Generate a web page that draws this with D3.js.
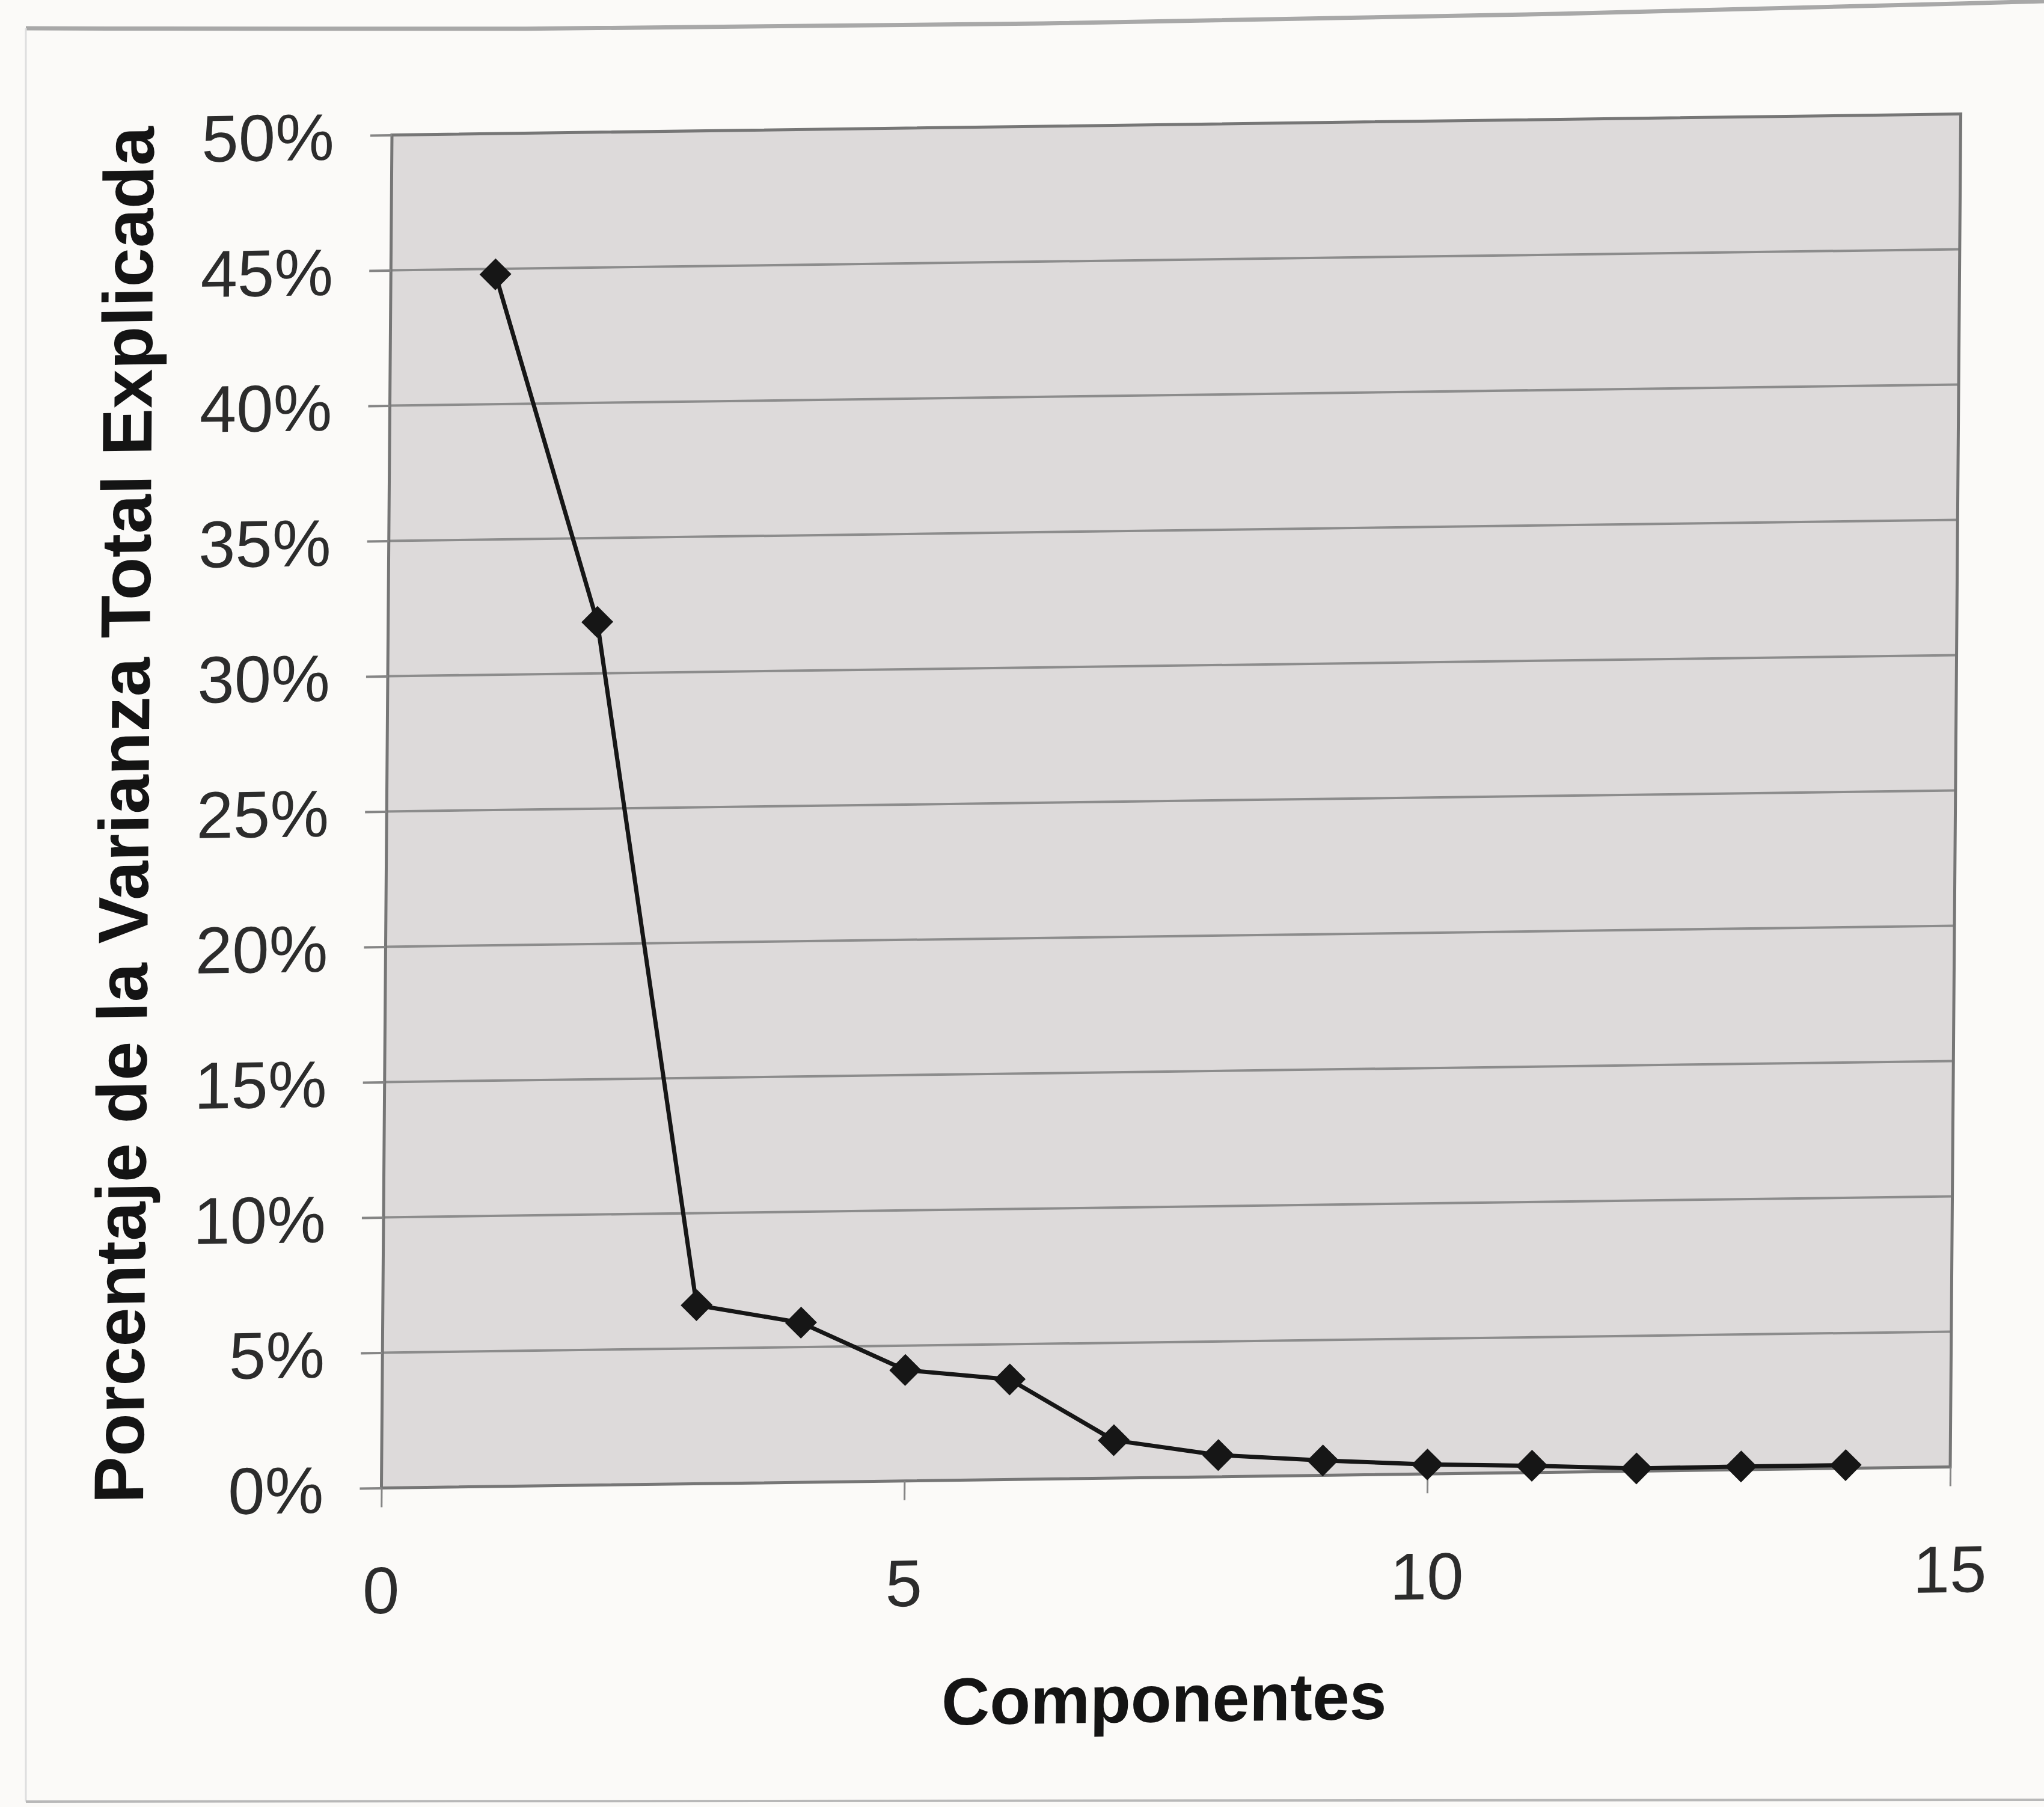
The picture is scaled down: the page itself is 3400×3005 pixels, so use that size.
<!DOCTYPE html>
<html>
<head>
<meta charset="utf-8">
<script src="https://cdn.jsdelivr.net/npm/d3@7/dist/d3.min.js"></script>
<style>
  html, body { margin: 0; padding: 0; background: #fbfaf8; }
  svg { display: block; }
  text { font-family: "Liberation Sans", Arial, Helvetica, sans-serif; }
</style>
</head>
<body>
<svg id="chart" width="3400" height="3005"></svg>
<script>
// Scree plot: share of total variance explained by each principal component
const components = [1, 2, 3, 4, 5, 6, 7, 8, 9, 10, 11, 12, 13, 14];
const varianceExplained = [44.8, 31.9, 6.6, 5.9, 4.1, 3.7, 1.4, 0.8, 0.55, 0.35, 0.25, 0.1, 0.12, 0.12];
const yTickValues = [0, 5, 10, 15, 20, 25, 30, 35, 40, 45, 50];
const xTickValues = [0, 5, 10, 15];
const yTitle = "Porcentaje de la Varianza Total Explicada";
const xTitle = "Componentes";

const W = 2608, H = 2247;

const svg = d3.select("#chart");
svg.append("rect").attr("width", 3400).attr("height", 3005).attr("fill", "#fbfaf8");

// page frame around the figure
const frame = svg.append("g").attr("fill", "none");
frame.append("path")
  .attr("d", d3.line().curve(d3.curveBasis)([[43, 47], [868, 50], [1735, 40], [2603, 24], [3400, 2]]))
  .attr("stroke", "#a8a8a8").attr("stroke-width", 7);
frame.append("line").attr("x1", 43).attr("y1", 47).attr("x2", 43).attr("y2", 2996)
  .attr("stroke", "#dedede").attr("stroke-width", 3);
frame.append("line").attr("x1", 43).attr("y1", 2996).attr("x2", 3400).attr("y2", 2993)
  .attr("stroke", "#b8b8b8").attr("stroke-width", 4);

// chart group, slightly sheared like the printed page
const g = svg.append("g")
  .attr("transform", "matrix(1.0006,-0.0134,-0.0078,1.0013,652,224.5)");

const x = d3.scaleLinear().domain([0, 15]).range([0, W]);
const y = d3.scaleLinear().domain([0, 50]).range([H, 0]);

// plot area
g.append("rect").attr("x", 0).attr("y", 0).attr("width", W).attr("height", H)
  .attr("fill", "#dddada");

// horizontal gridlines
g.append("g").selectAll("line")
  .data(yTickValues.filter(d => d > 0 && d < 50))
  .join("line")
  .attr("x1", 0).attr("x2", W)
  .attr("y1", d => y(d)).attr("y2", d => y(d))
  .attr("stroke", "#8c8c8c").attr("stroke-width", 4);

// plot border
g.append("rect").attr("x", 0).attr("y", 0).attr("width", W).attr("height", H)
  .attr("fill", "none").attr("stroke", "#767676").attr("stroke-width", 5);

// y axis
const yAxis = g.append("g")
  .call(d3.axisLeft(y).tickValues(yTickValues).tickSize(36).tickPadding(60)
    .tickFormat(d => d + "%"));
yAxis.select(".domain").remove();
yAxis.selectAll(".tick line").attr("stroke", "#858585").attr("stroke-width", 4);
yAxis.selectAll(".tick text")
  .attr("font-size", 110).attr("fill", "#2c2c2c").attr("dy", "0.36em");

// x axis
const xAxis = g.append("g").attr("transform", `translate(0,${H})`)
  .call(d3.axisBottom(x).tickValues(xTickValues).tickSize(32).tickPadding(98));
xAxis.select(".domain").remove();
xAxis.selectAll(".tick line").attr("stroke", "#858585").attr("stroke-width", 3);
xAxis.selectAll(".tick text")
  .attr("font-size", 110).attr("fill", "#2c2c2c");

// axis titles
g.append("text")
  .attr("transform", `translate(-396,${H / 2}) rotate(-90)`)
  .attr("text-anchor", "middle")
  .attr("font-size", 117).attr("font-weight", "bold").attr("fill", "#141414")
  .text(yTitle);

g.append("text")
  .attr("x", W / 2).attr("y", H + 406)
  .attr("text-anchor", "middle")
  .attr("font-size", 111).attr("font-weight", "bold").attr("fill", "#141414")
  .text(xTitle);

// series line and diamond markers
const points = components.map((c, i) => ({ c, v: varianceExplained[i] }));

g.append("path")
  .datum(points)
  .attr("fill", "none").attr("stroke", "#161616").attr("stroke-width", 7)
  .attr("stroke-linejoin", "round")
  .attr("d", d3.line().x(d => x(d.c)).y(d => y(d.v)));

const diamond = d3.symbol().type(d3.symbolSquare).size(1400);
g.append("g").selectAll("path")
  .data(points)
  .join("path")
  .attr("d", diamond)
  .attr("transform", d => `translate(${x(d.c)},${y(d.v)}) rotate(45)`)
  .attr("fill", "#161616");
</script>
</body>
</html>
